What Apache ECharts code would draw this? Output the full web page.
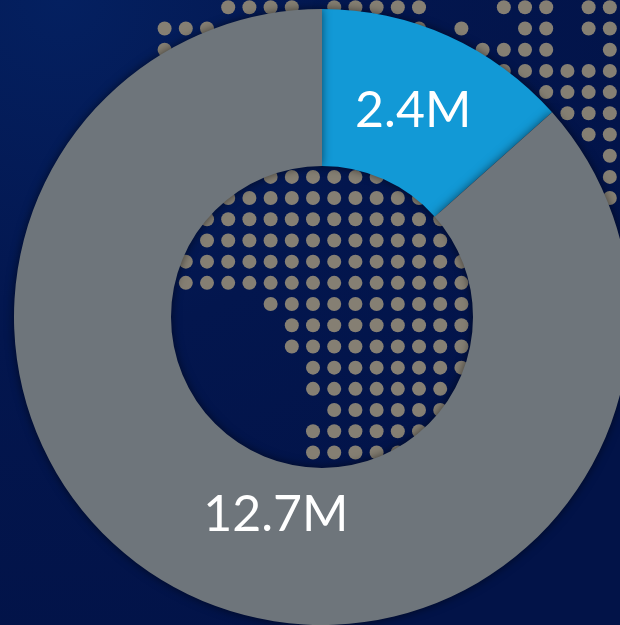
<!DOCTYPE html>
<html>
<head>
<meta charset="utf-8">
<style>
html, body { margin: 0; padding: 0; background: #021449; }
#chart { width: 620px; height: 625px; }
</style>
<script src="https://cdn.jsdelivr.net/npm/echarts@6/dist/echarts.min.js"></script>
</head>
<body>
<div id="chart"></div>
<script>
var sliceNames = ['A', 'B'];
// wedge sizes (the blue wedge spans about 48 degrees)
var sliceSizes = [1.97, 12.7];
var sliceLabels = ['2.4M', '12.7M'];
var sliceColors = ['#1299d6', '#6e757b'];

// background dot map: [row, first column, last column]
var dotRuns = [
    [0, 10, 13], [0, 15, 19], [0, 23, 25], [0, 27, 28],
    [1, 7, 9], [1, 19, 19], [1, 21, 21], [1, 24, 25], [1, 27, 28],
    [2, 7, 7], [2, 22, 25], [2, 28, 28],
    [3, 23, 28],
    [4, 25, 28],
    [5, 26, 28],
    [6, 27, 28],
    [7, 28, 28],
    [8, 12, 17], [8, 28, 28],
    [9, 10, 19], [9, 28, 28],
    [10, 9, 20],
    [11, 9, 20],
    [12, 8, 21],
    [13, 8, 21],
    [14, 12, 21],
    [15, 13, 21],
    [16, 13, 21],
    [17, 14, 21],
    [18, 14, 20],
    [19, 15, 20],
    [20, 14, 19],
    [21, 14, 18]
];

var dots = [];
dotRuns.forEach(function (run) {
    for (var c = run[1]; c <= run[2]; c++) {
        dots.push([c, run[0]]);
    }
});

var chart = echarts.init(document.getElementById('chart'));

var option = {
    animation: false,
    backgroundColor: {
        type: 'radial', x: 0.1, y: 0, r: 1.1,
        colorStops: [
            { offset: 0, color: '#042060' },
            { offset: 0.5, color: '#03164e' },
            { offset: 1, color: '#021348' }
        ]
    },
    grid: { left: 0, right: 0, top: 0, bottom: 0 },
    // one axis unit is one dot spacing (21.2px)
    xAxis: { type: 'value', show: false, min: -0.764, max: 28.48 },
    yAxis: { type: 'value', show: false, min: -0.344, max: 29.14, inverse: true },
    series: [
        {
            type: 'scatter',
            silent: true,
            z: 1,
            symbolSize: 14,
            itemStyle: { color: '#857f73', opacity: 1 },
            data: dots
        },
        {
            type: 'pie',
            silent: true,
            z: 2,
            center: [322, 317],
            radius: [151, 308],
            startAngle: 90,
            clockwise: true,
            itemStyle: {
                shadowBlur: 10,
                shadowColor: 'rgba(0,0,0,0.55)'
            },
            label: {
                show: true,
                position: 'inside',
                color: '#fff',
                fontFamily: 'Lato',
                fontSize: 50,
                formatter: function (p) { return sliceLabels[p.dataIndex]; }
            },
            labelLine: { show: false },
            labelLayout: function (p) {
                // the big label sits closer to the bottom centre
                return p.dataIndex === 1 ? { dx: 49, dy: -14 } : { dx: -4, dy: 6 };
            },
            data: sliceSizes.map(function (v, i) {
                return { name: sliceNames[i], value: v, itemStyle: { color: sliceColors[i] } };
            })
        }
    ]
};

chart.setOption(option);
</script>
</body>
</html>
